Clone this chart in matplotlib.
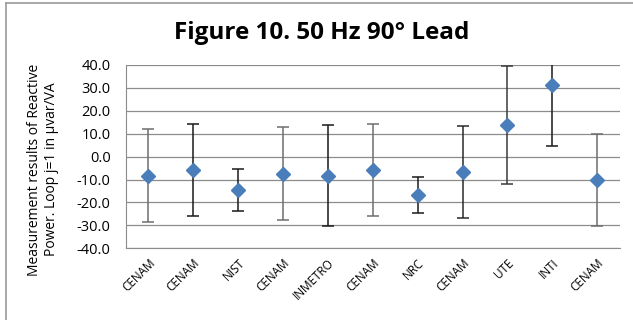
import matplotlib.pyplot as plt
import numpy as np
from matplotlib.lines import Line2D

##-------------data------------------------------------------
labs = ['CENAM', 'CENAM', 'NIST', 'CENAM', 'INMETRO', 'CENAM', 'NRC', 'CENAM', 'UTE', 'INTI', 'CENAM']
vals = [-8.3, -5.8, -14.7, -7.6, -8.3, -5.8, -16.9, -6.8, 13.7, 31.2, -10.2]
upper = [12.0, 14.3, -5.4, 12.8, 13.7, 14.3, -8.7, 13.4, 39.6, 57.6, 9.8]
lower = [-28.4, -25.9, -23.7, -27.6, -30.1, -25.9, -24.7, -26.8, -12.1, 4.8, -30.1]
bar_cols = ['#6e6e6e', '#1a1a1a', '#1a1a1a', '#6e6e6e', '#1a1a1a', '#6e6e6e',
            '#1a1a1a', '#2a2a2a', '#3a3a3a', '#1a1a1a', '#6e6e6e']
##------------------------------------------------------------

plt.rcParams['font.family'] = ['Open Sans', 'DejaVu Sans']

fig = plt.figure(figsize=(6.33, 3.2), dpi=100)
ax = fig.add_axes([0.199, 0.224, 0.78, 0.573])

x = np.arange(len(labs))
for i in range(len(labs)):
    ax.errorbar(x[i], vals[i], yerr=[[vals[i] - lower[i]], [upper[i] - vals[i]]],
                fmt='none', ecolor=bar_cols[i], elinewidth=1.1, capsize=4, capthick=1.1,
                zorder=3)
ax.plot(x, vals, linestyle='none', marker='D', markersize=7.5, color='#4a7ebb', zorder=4)

ax.set_xlim(-0.5, len(labs) - 0.5)
ax.set_ylim(-40, 40)
ax.set_yticks(np.arange(-40, 41, 10))
ax.set_yticklabels(['%.1f' % v for v in np.arange(-40, 41, 10)], fontsize=10.5)
ax.set_xticks(x)
ax.set_xticklabels(labs, rotation=45, ha='right', rotation_mode='anchor', fontsize=8.5)
ax.tick_params(axis='x', length=0, pad=6)
ax.tick_params(axis='y', length=0, pad=11)
ax.yaxis.grid(True, color='#8c8c8c', linewidth=0.9)
ax.set_axisbelow(True)
for s in ['top', 'right']:
    ax.spines[s].set_visible(False)
ax.spines['left'].set_color('#8c8c8c')
ax.spines['bottom'].set_color('#8c8c8c')

ax.set_ylabel('Measurement results of Reactive\nPower. Loop j=1 in \u03bcvar/VA', fontsize=10,
              fontweight='medium')
ax.yaxis.set_label_coords(-0.135, 0.43)
fig.text(0.508, 0.898, 'Figure 10. 50 Hz 90\u00b0 Lead', ha='center', va='center',
         fontsize=17.5, fontweight='bold')

# chart-area border: only top and left edges are visible in the crop
fig.add_artist(Line2D([0.0095, 1.0], [0.99, 0.99], transform=fig.transFigure,
                      color='#9a9a9a', linewidth=1.2))
fig.add_artist(Line2D([0.0095, 0.0095], [0.0, 0.99], transform=fig.transFigure,
                      color='#9a9a9a', linewidth=1.2))

fig.savefig('out.png', dpi=100)
